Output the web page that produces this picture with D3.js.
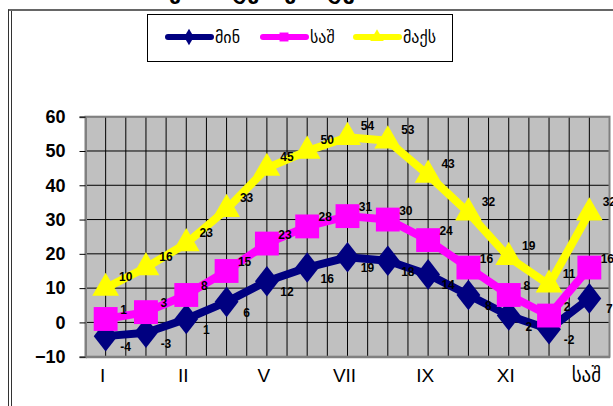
<!DOCTYPE html>
<html>
<head>
<meta charset="utf-8">
<script src="https://cdn.jsdelivr.net/npm/d3@7"></script>
<style>
  html, body { margin: 0; padding: 0; background: #fff; }
  svg { display: block; }
</style>
</head>
<body>
<svg id="chart" width="613" height="406"></svg>
<script>
// ---- data ----
const categories = ["I", "I2", "II", "II2", "V", "V2", "VII", "VII2", "IX", "IX2", "XI", "XI2", "საშ"];
const tickLabels = ["I", "", "II", "", "V", "", "VII", "", "IX", "", "XI", "", "საშ"];
const minValues = [-4, -3, 1, 6, 12, 16, 19, 18, 14, 8, 2, -2, 7];
const avgValues = [1, 3, 8, 15, 23, 28, 31, 30, 24, 16, 8, 2, 16];
const maxValues = [10, 16, 23, 33, 45, 50, 54, 53, 43, 32, 19, 11, 32];
const seriesNames = ["მინ", "საშ", "მაქს"];
const yTicks = [-10, 0, 10, 20, 30, 40, 50, 60];
const titleText = "ჰაერის ტემპერატურა";

const svg = d3.select("#chart");
const font = "Arial, 'Liberation Sans', 'DejaVu Sans', sans-serif";

// outer frame
svg.append("line").attr("x1", 8.5).attr("x2", 8.5).attr("y1", 9.5).attr("y2", 406).attr("stroke", "#333").attr("stroke-width", 1);
svg.append("line").attr("x1", 11.5).attr("x2", 11.5).attr("y1", 11).attr("y2", 406).attr("stroke", "#333").attr("stroke-width", 1);
svg.append("line").attr("x1", 8).attr("x2", 613).attr("y1", 10).attr("y2", 10).attr("stroke", "#333").attr("stroke-width", 1.5);

// title (mostly cut off at top, as in the reference)
svg.append("text").attr("x", 265).attr("y", -1).attr("text-anchor", "middle")
  .attr("font-family", "'DejaVu Sans', sans-serif").attr("font-weight", "bold").attr("font-size", 22)
  .text(titleText);

// scales
const x = d3.scaleBand().domain(d3.range(categories.length)).range([85.5, 609.5]).padding(0);
const bw = x.bandwidth();
const cx = i => x(i) + bw / 2;
const y = d3.scaleLinear().domain([-10, 60]).range([356.7, 116.7]);

// plot area
svg.append("rect").attr("x", x.range()[0]).attr("y", y(60)).attr("width", x.range()[1] - x.range()[0])
  .attr("height", y(-10) - y(60)).attr("fill", "#C0C0C0");

// horizontal gridlines
svg.append("g").selectAll("line").data(yTicks).join("line")
  .attr("x1", x.range()[0]).attr("x2", x.range()[1])
  .attr("y1", d => y(d)).attr("y2", d => y(d))
  .attr("stroke", "#000").attr("stroke-width", 1);

// vertical gridlines at band edges and centers
const vx = [];
d3.range(categories.length).forEach(i => { vx.push(x(i)); vx.push(cx(i)); });
svg.append("g").selectAll("line").data(vx).join("line")
  .attr("x1", d => d).attr("x2", d => d).attr("y1", y(60)).attr("y2", y(-10))
  .attr("stroke", "#000").attr("stroke-width", 1);

// plot border
svg.append("rect").attr("x", x.range()[0]).attr("y", y(60)).attr("width", x.range()[1] - x.range()[0])
  .attr("height", y(-10) - y(60)).attr("fill", "none").attr("stroke", "#808080").attr("stroke-width", 2);

// y axis
const yAxis = d3.axisLeft(y).tickValues(yTicks).tickSize(6).tickPadding(14);
const ga = svg.append("g").attr("transform", `translate(${x.range()[0]},0)`).call(yAxis);
ga.select(".domain").attr("stroke", "#808080").attr("stroke-width", 2);
ga.selectAll(".tick line").attr("stroke", "#000");
ga.selectAll("text").attr("font-family", font).attr("font-weight", "bold").attr("font-size", 18).attr("fill", "#000");

// x axis
const xAxis = d3.axisBottom(x).tickSize(0).tickPadding(12).tickFormat(i => tickLabels[i]);
const gx = svg.append("g").attr("transform", `translate(0,${y(-10)})`).call(xAxis);
gx.select(".domain").attr("stroke", "#808080").attr("stroke-width", 2);
gx.selectAll("text").attr("font-family", font).attr("font-size", 19).attr("fill", "#000").attr("dx", -3);

// series
const series = [
  { name: seriesNames[0], values: minValues, color: "#000080", marker: d3.symbolDiamond, msize: 270, dx: 20, dy: 11 },
  { name: seriesNames[1], values: avgValues, color: "#FF00FF", marker: d3.symbolSquare, msize: 570, dx: 18, dy: -9 },
  { name: seriesNames[2], values: maxValues, color: "#FFFF00", marker: d3.symbolTriangle, msize: 310, dx: 20, dy: -11 }
];

const line = d3.line().x((d, i) => cx(i)).y(d => y(d));

series.forEach(s => {
  const g = svg.append("g");
  g.append("path").datum(s.values).attr("d", line).attr("fill", "none")
    .attr("stroke", s.color).attr("stroke-width", 8).attr("stroke-linejoin", "round");
  g.selectAll("path.m").data(s.values).join("path").attr("class", "m")
    .attr("transform", (d, i) => `translate(${cx(i)},${y(d)})` + (s.marker === d3.symbolDiamond ? " scale(1.35,1)" : ""))
    .attr("d", d3.symbol().type(s.marker).size(s.msize))
    .attr("fill", s.color);
});

series.forEach(s => {
  svg.append("g").selectAll("text").data(s.values).join("text")
    .attr("x", (d, i) => cx(i) + s.dx).attr("y", d => y(d) + s.dy)
    .attr("text-anchor", "middle").attr("dominant-baseline", "central")
    .attr("font-family", font).attr("font-weight", "bold").attr("font-size", 12).attr("fill", "#000")
    .text(d => d);
});

// legend
const lg = svg.append("g");
lg.append("rect").attr("x", 147.5).attr("y", 14.5).attr("width", 305).attr("height", 47)
  .attr("fill", "#fff").attr("stroke", "#000").attr("stroke-width", 1);
const legX = [166, 261, 354];
series.forEach((s, k) => {
  const x0 = legX[k], yy = 37;
  lg.append("line").attr("x1", x0 + 2).attr("x2", x0 + 45).attr("y1", yy).attr("y2", yy)
    .attr("stroke", s.color).attr("stroke-width", 6).attr("stroke-linecap", "round");
  lg.append("path").attr("transform", `translate(${x0 + 23},${yy})`)
    .attr("d", d3.symbol().type(s.marker).size(80)).attr("fill", s.color);
  lg.append("text").attr("x", x0 + 49).attr("y", yy).attr("dominant-baseline", "central")
    .attr("font-family", "'DejaVu Sans', sans-serif").attr("font-size", 16).attr("fill", "#000")
    .text(s.name);
});
</script>
</body>
</html>
